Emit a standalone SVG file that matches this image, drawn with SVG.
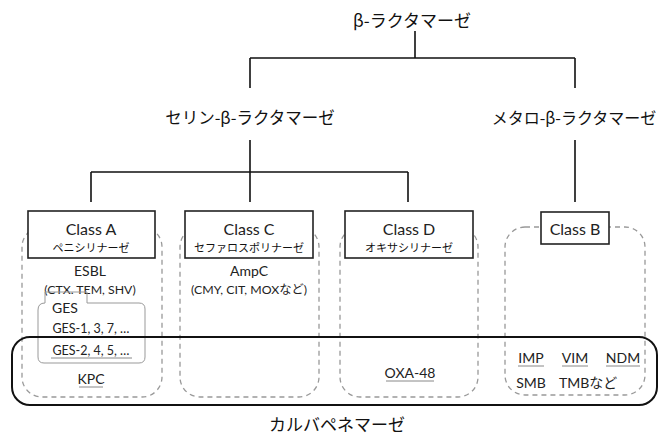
<svg xmlns="http://www.w3.org/2000/svg" width="670" height="434" viewBox="0 0 670 434">
<style>
.jp{font-family:"Noto Sans CJK JP","Noto Sans",sans-serif;fill:#111}
.lt{font-family:Lato,"Noto Sans CJK JP",sans-serif;fill:#222}
.conn{stroke:#111;stroke-width:1.6;fill:none}
.box{fill:#fff;stroke:#222;stroke-width:1.6}
.dash{fill:none;stroke:#999;stroke-width:1.3;stroke-dasharray:5 4}
.ul{stroke:#888;stroke-width:1}
text{dominant-baseline:central;text-anchor:middle}
</style>
<rect width="670" height="434" fill="#fff"/>
<g id="connectors">
<path class="conn" d="M415,31V58M250,58H575M250,58V88M575,58V88"/>
<path class="conn" d="M250,140V202M91,172H408M91,172V202M408,172V202M575,140V202"/>
</g>
<g id="groups">
<rect class="dash" x="22" y="227" width="140" height="170" rx="20"/>
<rect class="dash" x="180" y="227" width="139" height="170" rx="20"/>
<rect class="dash" x="340" y="227" width="138" height="170" rx="20"/>
<rect class="dash" x="505" y="227" width="140" height="168" rx="20"/>
</g>
<g id="root"><text class="jp" x="412" y="19" font-size="17">β-ラクタマーゼ</text></g>
<g id="serine"><text class="jp" x="250" y="117" font-size="16.5">セリン-β-ラクタマーゼ</text></g>
<g id="metallo"><text class="jp" x="574" y="117" font-size="16">メタロ-β-ラクタマーゼ</text></g>
<g id="classA">
<rect class="box" x="28" y="211" width="127" height="47"/>
<text class="lt" x="91" y="228" font-size="16">Class A</text>
<text class="jp" x="91" y="247" font-size="11">ペニシリナーゼ</text>
<text class="lt" x="90" y="270" font-size="14">ESBL</text>
<text class="lt" x="90" y="289" font-size="12.3">(CTX. TEM, SHV)</text>
</g>
<g id="ges">
<path d="M45,292H87V303H139Q145,303 145,309V357Q145,363 139,363H44Q38,363 38,357V310Q38,303 45,303Z" fill="none" stroke="#999" stroke-width="1"/>
<text class="lt" x="52" y="307" font-size="14" style="text-anchor:start">GES</text>
<text class="lt" x="91" y="328" font-size="12.5">GES-1, 3, 7, …</text>
<text class="lt" x="91" y="350" font-size="12.5">GES-2, 4, 5, …</text>
<line class="ul" x1="51" y1="358" x2="132" y2="358"/>
</g>
<g id="kpc">
<text class="lt" x="91" y="378" font-size="14">KPC</text>
<line class="ul" x1="79" y1="387" x2="103" y2="387"/>
</g>
<g id="classC">
<rect class="box" x="185" y="211" width="128" height="47"/>
<text class="lt" x="249" y="228" font-size="16">Class C</text>
<text class="jp" x="249" y="247" font-size="11">セファロスポリナーゼ</text>
<text class="lt" x="249" y="270" font-size="14">AmpC</text>
<text class="lt" x="249" y="289" font-size="12.3">(CMY, CIT, MOXなど)</text>
</g>
<g id="classD">
<rect class="box" x="345" y="211" width="128" height="47"/>
<text class="lt" x="409" y="228" font-size="16">Class D</text>
<text class="jp" x="409" y="247" font-size="11">オキサシリナーゼ</text>
<text class="lt" x="410" y="372" font-size="14">OXA-48</text>
<line class="ul" x1="386" y1="381" x2="434" y2="381"/>
</g>
<g id="classB">
<rect class="box" x="541" y="212" width="68" height="32"/>
<text class="lt" x="575" y="228" font-size="16">Class B</text>
<text class="lt" x="531" y="357" font-size="14">IMP</text>
<line class="ul" x1="518" y1="366" x2="544" y2="366"/>
<text class="lt" x="575" y="357" font-size="14">VIM</text>
<line class="ul" x1="562" y1="366" x2="588" y2="366"/>
<text class="lt" x="623" y="357" font-size="14">NDM</text>
<line class="ul" x1="606" y1="366" x2="640" y2="366"/>
<text class="lt" x="531" y="382" font-size="14">SMB</text>
<text class="lt" x="559" y="382" font-size="14" style="text-anchor:start">TMBなど</text>
</g>
<g id="carbapenemase">
<rect x="12" y="337" width="645" height="68" rx="18" fill="none" stroke="#111" stroke-width="2"/>
<text class="jp" x="337" y="423" font-size="17">カルバペネマーゼ</text>
</g>
</svg>
